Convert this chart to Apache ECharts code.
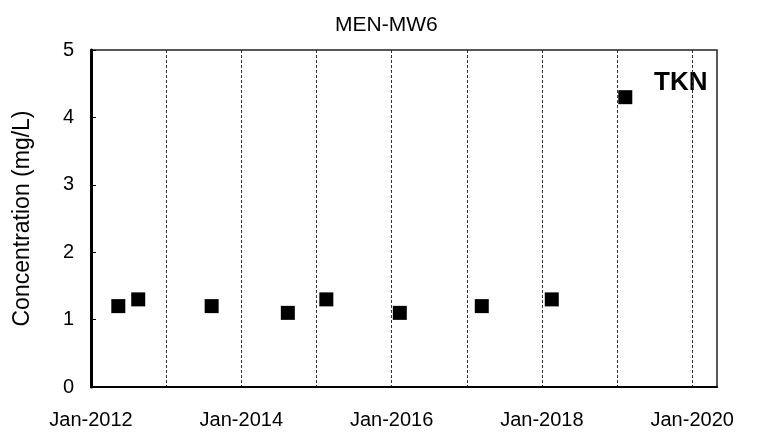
<!DOCTYPE html>
<html>
<head>
<meta charset="utf-8">
<script src="https://cdn.jsdelivr.net/npm/echarts@6/dist/echarts.min.js"></script>
<style>html,body{margin:0;padding:0;background:#fff}#c{width:759px;height:434px}</style>
</head>
<body>
<div id="c"></div>
<script>
// Data
var sampleDates = ['2012-05-13','2012-08-18','2013-08-10','2014-08-15','2015-02-18','2016-02-10','2017-03-15','2018-02-18','2019-02-10'];
var tknValues = [1.2, 1.3, 1.2, 1.1, 1.3, 1.1, 1.2, 1.3, 4.3];
var chartTitle = 'MEN-MW6';
var seriesLabel = 'TKN';
var yAxisTitle = 'Concentration (mg/L)';
var yTicks = [0, 1, 2, 3, 4, 5];

function decimalYear(s) {
  var p = s.split('-').map(Number);
  var y = p[0];
  var t = Date.UTC(y, p[1] - 1, p[2]);
  var a = Date.UTC(y, 0, 1), b = Date.UTC(y + 1, 0, 1);
  return y + (t - a) / (b - a);
}
var points = sampleDates.map(function (d, i) { return [decimalYear(d), tknValues[i]]; });

var chart = echarts.init(document.getElementById('c'), null, {renderer: 'canvas'});
var FONT = '"Liberation Sans", Arial, sans-serif';
chart.setOption({
  animation: false,
  backgroundColor: '#fff',
  title: {
    text: chartTitle,
    left: 330, top: 10,
    textStyle: {fontFamily: FONT, fontSize: 21, fontWeight: 'normal', color: '#000'}
  },
  grid: {
    left: 91, top: 50, right: 42, bottom: 47,
    show: true, borderColor: '#222', borderWidth: 1.5, backgroundColor: 'transparent'
  },
  xAxis: {
    type: 'value',
    min: 2012, max: 2020.33, interval: 1,
    axisLine: {show: true, onZero: false, lineStyle: {color: '#000', width: 2}},
    axisTick: {show: false},
    splitLine: {show: true, showMinLine: false, showMaxLine: false,
      lineStyle: {color: '#333', width: 1, type: [3, 2]}},
    axisLabel: {
      margin: 23, color: '#000', fontFamily: FONT, fontSize: 20,
      showMaxLabel: false,
      formatter: function (v) {
        var r = Math.round(v);
        if (Math.abs(v - r) > 1e-6 || r % 2 !== 0) return '';
        return 'Jan-' + r;
      }
    }
  },
  yAxis: {
    type: 'value',
    min: yTicks[0], max: yTicks[yTicks.length - 1], interval: 1,
    name: yAxisTitle, nameLocation: 'middle', nameGap: 57,
    nameTextStyle: {fontFamily: FONT, fontSize: 23, color: '#000'},
    axisLine: {show: true, lineStyle: {color: '#000', width: 3}},
    axisTick: {show: true, inside: true, length: 5, lineStyle: {color: '#000', width: 1}},
    splitLine: {show: false},
    axisLabel: {margin: 17, color: '#000', fontFamily: FONT, fontSize: 20}
  },
  graphic: [{
    type: 'text', left: 654, top: 70,
    style: {text: seriesLabel, fontFamily: FONT, fontSize: 26, fontWeight: 'bold', fill: '#000'}
  }],
  series: [{
    type: 'scatter',
    symbol: 'rect', symbolSize: 14,
    itemStyle: {color: '#000', opacity: 1},
    data: points
  }]
});
</script>
</body>
</html>
